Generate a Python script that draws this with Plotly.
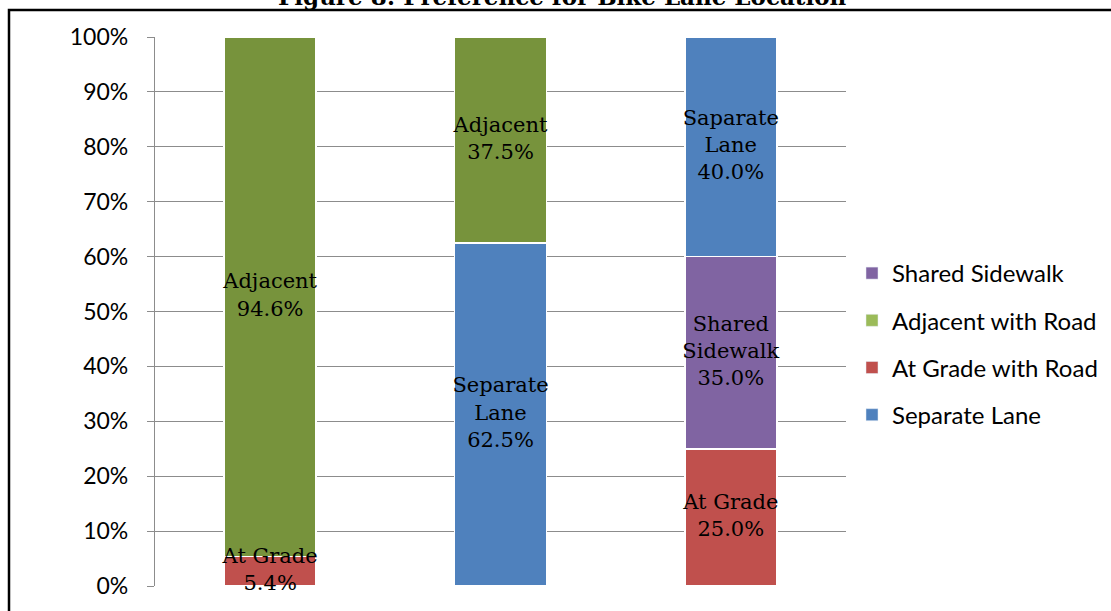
import plotly.graph_objects as go

categories = ["Q1", "Q2", "Q3"]
series_names = ["At Grade with Road", "Shared Sidewalk", "Separate Lane", "Adjacent with Road"]
at_grade = [5.4, 0, 25.0]
shared_sidewalk = [0, 0, 35.0]
separate_lane = [0, 62.5, 40.0]
adjacent = [94.6, 37.5, 0]
label_names = {
    "At Grade with Road": ["At Grade", "", "At Grade"],
    "Shared Sidewalk": ["", "", "Shared<br>Sidewalk"],
    "Separate Lane": ["", "Separate<br>Lane", "Saparate<br>Lane"],
    "Adjacent with Road": ["Adjacent", "Adjacent", ""],
}
bar_colors = {"At Grade with Road": "#C0504D", "Shared Sidewalk": "#8064A2",
              "Separate Lane": "#4F81BD", "Adjacent with Road": "#77933C"}
legend_colors = {"Shared Sidewalk": "#8064A2", "Adjacent with Road": "#9BBB59",
                 "At Grade with Road": "#C0504D", "Separate Lane": "#4F81BD"}
legend_order = ["Shared Sidewalk", "Adjacent with Road", "At Grade with Road", "Separate Lane"]
values = {"At Grade with Road": at_grade, "Shared Sidewalk": shared_sidewalk,
          "Separate Lane": separate_lane, "Adjacent with Road": adjacent}
y_ticks = list(range(0, 101, 10))
title = "Figure 8: Preference for Bike Lane Location"

fig = go.Figure()
for name in series_names:
    fig.add_trace(go.Bar(
        x=categories, y=values[name], name=name,
        marker=dict(color=bar_colors[name], line=dict(color="white", width=1.5)),
        showlegend=False, hoverinfo="skip",
    ))

# data labels at segment midpoints (derived from the stacked values)
lab_x, lab_y, lab_t = [], [], []
for ci, cat in enumerate(categories):
    base = 0.0
    for name in series_names:
        v = values[name][ci]
        if v > 0:
            lab_x.append(cat)
            lab_y.append(base + v / 2)
            lab_t.append(f"{label_names[name][ci]}<br>{v:.1f}%")
        base += v
fig.add_trace(go.Scatter(
    x=lab_x, y=lab_y, text=lab_t, mode="text", textposition="middle center",
    textfont=dict(family="DejaVu Serif", size=21, color="black"),
    cliponaxis=False, showlegend=False, hoverinfo="skip",
))

for i, name in enumerate(legend_order):
    fig.add_trace(go.Bar(
        x=[categories[0]], y=[None], name=name,
        marker=dict(color=legend_colors[name]), legendgroup=name, legendrank=i + 1,
        showlegend=True,
    ))

L, R, T, B = 155, 265, 37, 25
W, H = 1111, 611
pw, ph = W - L - R, H - T - B

fig.update_layout(
    width=W, height=H, barmode="stack", bargap=0.6,
    margin=dict(l=L, r=R, t=T, b=B, autoexpand=False),
    plot_bgcolor="white", paper_bgcolor="white",
    font=dict(family="Lato", size=22, color="black"),
    legend=dict(x=(852 - L) / pw, xanchor="left", y=(586 - 344) / ph, yanchor="middle",
                font=dict(family="Lato", size=24), tracegroupgap=13,
                traceorder="grouped", itemwidth=30, bgcolor="rgba(0,0,0,0)"),
    xaxis=dict(showticklabels=False, showgrid=False, showline=False, ticks="",
               range=[-0.5, 2.5]),
    yaxis=dict(range=[0, 100], tickvals=y_ticks, ticktext=[f"{t}%" for t in y_ticks],
               showgrid=True, gridcolor="#8C8C8C", gridwidth=1.3,
               showline=True, linecolor="#8C8C8C", linewidth=1.3,
               ticks="outside", ticklen=7, tickcolor="#8C8C8C", tickwidth=1.3,
               zeroline=False, tickfont=dict(family="Lato", size=23), ticklabelstandoff=14),
    showlegend=True,
)

fig.add_annotation(text="<b>" + title + "</b>", xref="paper", yref="paper",
                   x=(562 - L) / pw, y=1, xanchor="center", yanchor="bottom", yshift=25,
                   showarrow=False, font=dict(family="DejaVu Serif", size=23, color="black"))

fig.add_shape(type="rect", xref="paper", yref="paper",
              x0=(9 - L) / pw, x1=(1130 - L) / pw,
              y0=(586 - 630) / ph, y1=(586 - 10) / ph,
              line=dict(color="black", width=2.5), fillcolor="rgba(0,0,0,0)", layer="above")

fig.write_html("out.html", config={"displayModeBar": False},
               post_script="document.body.style.margin='0';")
